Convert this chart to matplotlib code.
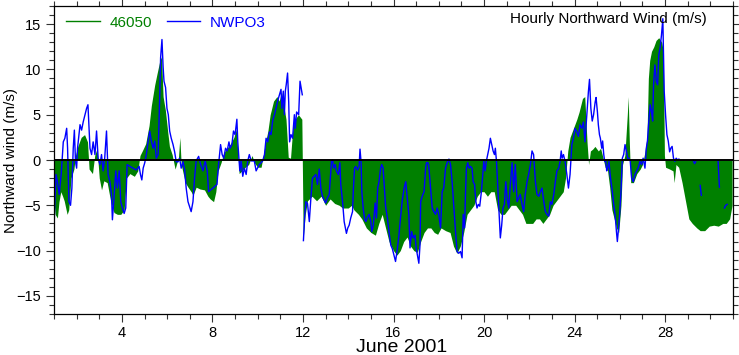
""" Hourly northward wind, buoy 46050 vs NWPO3, June 2001 """

import numpy as np
import matplotlib
matplotlib.use("Agg")
import matplotlib.pyplot as plt
from matplotlib.ticker import MultipleLocator, FixedLocator

plt.rcParams['font.family'] = ['Liberation Sans', 'DejaVu Sans']

# 46050 buoy (filled), day of June vs m/s
g_day = [1.00, 1.05, 1.15, 1.22, 1.30, 1.38, 1.45, 1.58, 1.65, 1.75, 1.88, 1.95,
         2.05, 2.20, 2.35, 2.48, 2.55, 2.70, 2.80, 2.90, 3.00, 3.10, 3.20, 3.35,
         3.50, 3.65, 3.80, 3.95, 4.10, 4.20, 4.35, 4.55, 4.70, 4.80, 4.90, 5.05,
         5.20, 5.30, 5.45, 5.55, 5.68, 5.75, 5.82, 5.92, 6.02, 6.10, 6.22, 6.35,
         6.50, 6.56, 6.62, 6.80, 6.92, 7.06, 7.14, 7.28, 7.45, 7.65, 7.80, 7.90,
         8.05, 8.15, 8.25, 8.38, 8.50, 8.65, 8.80, 8.95, 9.05, 9.12, 9.18, 9.30,
         9.45, 9.60, 9.75, 9.85, 10.00, 10.15, 10.25, 10.35, 10.45, 10.55, 10.70,
         10.85, 10.95, 11.05, 11.15, 11.25, 11.35, 11.45, 11.55, 11.65, 11.80,
         11.95, 11.98, 12.01, 12.10, 12.20, 12.40, 12.60, 12.80, 13.00, 13.20,
         13.40, 13.60, 13.75, 14.00, 14.15, 14.25, 14.45, 14.60, 14.80, 15.00,
         15.20, 15.35, 15.50, 15.65, 15.80, 16.00, 16.15, 16.30, 16.45, 16.60,
         16.75, 16.90, 17.05, 17.20, 17.35, 17.50, 17.65, 17.80, 17.95, 18.10,
         18.30, 18.50, 18.65, 18.80, 18.95, 19.10, 19.25, 19.40, 19.55, 19.70,
         19.85, 20.00, 20.15, 20.30, 20.45, 20.60, 20.75, 20.90, 21.05, 21.20,
         21.40, 21.55, 21.70, 21.85, 22.00, 22.15, 22.30, 22.45, 22.60, 22.75,
         22.90, 23.05, 23.20, 23.35, 23.50, 23.60, 23.70, 23.80, 23.95, 24.10,
         24.20, 24.35, 24.45, 24.55, 24.62, 24.70, 24.80, 24.90, 25.05, 25.15,
         25.25, 25.35, 25.45, 25.55, 25.65, 25.75, 25.85, 25.95, 26.05, 26.12,
         26.22, 26.33, 26.37, 26.42, 26.48, 26.60, 26.75, 26.90, 27.00, 27.10,
         27.20, 27.26, 27.32, 27.40, 27.50, 27.60, 27.72, 27.85, 27.92, 27.97,
         28.02, 28.20, 28.35, 28.40, 28.48, 28.60, 28.75, 28.90, 29.05, 29.20,
         29.40, 29.55, 29.75, 29.95, 30.15, 30.35, 30.55, 30.70, 30.85, 30.96]
g_val = [-4.5, -6.0, -6.4, -4.6, -3.5, -4.0, -4.5, -6.0, -5.5, -2.0, -1.0, 0.5,
         1.5, 2.5, 2.8, 2.0, -1.0, -1.5, 0.5, 1.3, -2.0, -3.3, -2.3, -2.5,
         -4.5, -5.8, -6.0, -6.0, -5.5, -2.0, -1.5, -1.8, -1.2, 0.5, 1.0, 1.8,
         3.8, 6.0, 8.3, 9.5, 11.0, 11.4, 7.0, 5.5, 3.2, 1.5, 0.6, -1.0,
         0.3, 2.5, -0.5, -2.5, -3.0, -3.5, -3.9, -3.0, -3.2, -3.3, -4.0, -4.3,
         -4.6, -3.5, -1.2, -0.3, 0.8, 1.3, 1.8, 2.5, 3.4, 1.0, -1.5, -1.2,
         -0.8, -0.5, 0.5, -0.3, -0.8, -0.8, 0.5, 2.0, 3.2, 5.0, 6.5,
         7.0, 6.5, 7.5, 6.0, 4.5, 0.3, 0.2, 3.5, 4.5, 5.0,
         4.5, -2.0, -8.7, -6.0, -4.5, -4.0, -4.5, -4.0, -5.0, -4.3,
         -4.8, -5.0, -5.3, -5.3, -5.0, -5.5, -6.0, -6.5, -7.5, -8.0,
         -8.3, -7.0, -6.0, -7.5, -9.0, -10.0, -10.5, -10.0, -9.0, -8.5,
         -9.5, -10.0, -10.2, -9.0, -8.0, -7.5, -7.5, -8.0, -8.2, -7.5,
         -7.8, -8.0, -9.5, -10.3, -9.5, -8.0, -6.0, -5.5, -5.0, -4.0,
         -3.5, -3.5, -4.0, -3.5, -3.5, -5.5, -6.0, -6.0, -5.5, -5.0,
         -5.0, -5.5, -6.0, -7.0, -7.0, -7.0, -6.5, -6.5, -7.0, -6.5,
         -6.0, -5.0, -4.5, -4.0, -3.5, -2.0, 1.0, 2.5, 3.5, 4.5,
         5.3, 6.8, 7.0, 2.0, -0.5, 1.0, 1.2, 1.5, 1.0, 1.3,
         0.3, -0.8, -1.0, -3.0, -5.5, -6.5, -7.5, -8.0, -5.0, -0.5,
         0.5, 5.0, 7.0, 2.0, -2.5, -2.5, -1.5, -1.0, -0.5, 0.8,
         2.5, 9.0, 11.0, 12.0, 12.5, 13.2, 13.5, 13.0, 12.0, 0.5,
         -0.8, -1.0, -1.2, -2.5, -0.5, -0.8, -2.5, -4.5, -6.5, -7.0,
         -7.5, -7.8, -7.8, -7.3, -7.2, -7.3, -7.0, -7.0, -6.5, -5.0]

# NWPO3 station (line), nan = missing
b_day = [1.00, 1.04, 1.09, 1.15, 1.23, 1.32, 1.41, 1.48, 1.56, 1.60, 1.66, 1.73,
         1.79, 1.85, 1.90, 1.95, 2.00, 2.04, 2.15, 2.22, 2.29, 2.37, 2.44, 2.50,
         2.54, 2.59, 2.66, 2.73, 2.81, 2.88, 2.95, 3.03, 3.10, 3.17, 3.24, 3.32,
         3.39, 3.47, 3.54, 3.58, 3.64, 3.73, 3.80, 3.88, 3.95, 4.02, 4.10, 4.17,
         4.23, 4.35, 4.49, 4.64, 4.76, 4.82, 4.88, 4.94, 5.01, 5.08, 5.16, 5.23,
         5.30, 5.38, 5.45, 5.52, 5.60, 5.67, 5.71, 5.77, 5.82, 5.86, 5.93, 5.99,
         6.05, 6.11, 6.18, 6.26, 6.33, 6.40, 6.48, 6.55, 6.62, 6.70, 6.77, 6.84,
         6.92, 7.06, 7.14, 7.21, 7.28, 7.39, 7.48, 7.58, 7.68, 7.77, 7.83, 8.02,
         8.20, 8.27, 8.36, 8.43, 8.50, 8.58, 8.65, 8.73, 8.78, 8.86, 8.93, 9.00,
         9.08, 9.12, 9.17, 9.21, 9.27, 9.34, 9.41, 9.49, 9.56, 9.63, 9.71, 9.85,
         9.93, 10.07, 10.22, 10.30, 10.37, 10.44, 10.52, 10.59, 10.66, 10.74,
         10.81, 10.88, 10.96, 11.03, 11.07, 11.13, 11.18, 11.22, 11.26, 11.32,
         11.37, 11.41, 11.47, 11.54, 11.62, 11.66, 11.72, 11.81, 11.87, 11.91,
         11.97, 11.99, 12.02, 12.08, 12.13, 12.20, 12.28, 12.35, 12.42, 12.57,
         12.64, 12.72, 12.79, 12.86, 13.00, 13.08, 13.16, 13.20, 13.26, 13.31,
         13.35, 13.42, 13.48, 13.56, 13.63, 13.67, 13.75, 13.82, 13.86, 13.92,
         13.98, 14.04, 14.11, 14.19, 14.23, 14.28, 14.33, 14.41, 14.48, 14.52,
         14.57, 14.60, 14.66, 14.73, 14.78, 14.85, 14.92, 15.00, 15.04, 15.11,
         15.19, 15.25, 15.30, 15.36, 15.43, 15.48, 15.54, 15.60, 15.65, 15.73,
         15.80, 15.88, 15.95, 16.02, 16.09, 16.17, 16.24, 16.32, 16.39, 16.47,
         16.54, 16.61, 16.68, 16.73, 16.80, 16.87, 16.95, 17.00, 17.08, 17.12,
         17.17, 17.20, 17.27, 17.35, 17.42, 17.46, 17.52, 17.56, 17.64, 17.71,
         17.78, 17.86, 17.93, 18.00, 18.08, 18.15, 18.22, 18.30, 18.37, 18.45,
         18.52, 18.59, 18.67, 18.74, 18.81, 18.88, 18.96, 19.03, 19.08, 19.14,
         19.18, 19.22, 19.28, 19.34, 19.40, 19.47, 19.52, 19.58, 19.64, 19.69,
         19.75, 19.81, 19.87, 19.92, 19.99, 20.05, 20.10, 20.16, 20.22, 20.28,
         20.34, 20.40, 20.46, 20.50, 20.55, 20.61, 20.67, 20.72, 20.78, 20.84,
         20.90, 20.96, 21.02, 21.09, 21.17, 21.24, 21.31, 21.38, 21.46, 21.53,
         21.60, 21.68, 21.75, 21.82, 21.90, 21.97, 22.05, 22.12, 22.19, 22.27,
         22.34, 22.42, 22.49, 22.56, 22.64, 22.71, 22.78, 22.86, 22.93, 23.00,
         23.08, 23.15, 23.22, 23.30, 23.36, 23.41, 23.45, 23.51, 23.58, 23.66,
         23.73, 23.80, 23.88, 23.95, 24.02, 24.10, 24.17, 24.24, 24.32, 24.39,
         24.46, 24.54, 24.61, 24.66, 24.72, 24.78, 24.84, 24.91, 24.95, 25.01,
         25.05, 25.10, 25.14, 25.20, 25.24, 25.29, 25.33, 25.38, 25.42, 25.46,
         25.52, 25.57, 25.61, 25.67, 25.73, 25.79, 25.85, 25.89, 25.93, 25.99,
         26.05, 26.11, 26.17, 26.23, 26.29, 26.35, 26.40, 26.46, 26.52, 26.59,
         26.67, 26.74, 26.81, 26.89, 26.96, 27.03, 27.11, 27.17, 27.22, 27.28,
         27.34, 27.40, 27.45, 27.49, 27.55, 27.61, 27.67, 27.72, 27.78, 27.84,
         27.90, 27.96, 28.02, 28.08, 28.14, 28.20, 28.25, 28.31, 28.37, 28.43,
         28.49, 28.55, 28.61, 28.70, 29.24, 29.30, 29.35, 29.45, 29.55, 29.60,
         29.80, 30.34, 30.40, 30.50, 30.62, 30.68, 30.74]
nan = np.nan
b_val = [-7.5, -4.6, -1.6, -2.4, -3.8, -1.5, 2.0, 2.4, 3.5, 1.3, -4.6, -5.0,
         -3.1, 1.3, 3.3, -0.2, -0.9, 1.3, 3.9, 3.3, 4.2, 5.0, 5.7, 6.1,
         3.9, 1.3, 0.6, 2.0, 0.6, 3.2, 0.2, -0.5, 0.6, -1.2, 0.2, 3.2,
         -1.6, -2.4, -3.8, -6.6, -4.6, -1.2, -3.1, -1.2, -4.6, -5.3, -5.9, -5.3,
         -0.5, -0.7, -0.9, -1.1, -0.7, -1.6, -2.2, -0.9, -0.3, 0.6, 2.1, 3.2,
         2.1, 1.3, 2.1, 0.2, 0.6, 6.9, 11.3, 13.3, 10.3, 8.7, 8.0, 5.7,
         5.0, 3.2, 2.4, 1.7, 0.9, -0.2, -0.2, 0.2, -0.9, -0.2, -1.0, -3.1,
         -4.6, -5.7, -4.6, -2.0, -0.1, 0.4, -0.5, -1.2, -0.1, -1.2, -3.5, -3.1,
         -2.7, -0.5, 1.7, 0.6, 0.2, 1.3, 1.0, 2.0, 1.3, 1.7, 3.2, 2.8,
         4.5, 2.0, 0.2, -1.2, -0.1, -1.8, -0.9, -1.6, -0.1, 0.6, -0.1, -0.1,
         -1.2, -0.5, -0.1, 0.6, 2.4, 2.0, 3.1, 2.8, 4.3, 5.0,
         5.7, 6.5, 7.2, 7.8, 5.7, 7.6, 5.0, 7.6, 8.3, 9.6,
         6.4, 2.0, 2.8, 2.4, 5.0, 3.5, 5.3, 5.0, 8.7, 8.1,
         7.2, nan, -8.9, -6.0, -4.6, -4.8, -6.8, -4.2, -2.0, -1.6,
         -2.7, -1.0, -3.1, -4.0, -4.75, -4.2, -3.8, -2.3, -0.15, 0.0,
         -0.9, -0.5, -1.2, -1.6, -0.3, -2.7, -4.6, -6.8, -7.3, -8.1,
         -7.5, -7.2, -6.4, -5.7, -3.1, -0.9, -0.7, -1.1, -0.7, 1.2,
         -0.3, -3.5, -5.3, -6.6, -6.8, -6.3, -6.0, -6.8, -7.9, -7.2,
         -4.75, -6.4, -3.1, -2.4, -0.9, -0.5, -0.9, -3.1, -5.1, -6.4,
         -7.9, -9.4, -9.8, -10.5, -11.2, -9.8, -8.3, -6.1, -4.4, -3.1,
         -2.4, -4.2, -6.1, -9.7, -7.9, -8.6, -8.3, -9.7, -10.8, -11.4,
         -9.4, -4.6, -4.0, -3.5, -0.9, -0.3, -0.3, -0.7, -3.1, -5.3,
         -5.7, -6.0, -5.3, -6.0, -7.5, -3.5, -3.1, -0.9, -0.3, 0.1,
         -0.5, -2.4, -5.3, -7.9, -10.1, -10.3, -10.1, -10.8, -6.0, -7.5,
         -3.8, -0.9, -0.3, -0.9, -0.7, -0.9, -2.4, -2.7, -4.6, -5.3,
         -4.9, -5.1, -3.8, -2.4, -0.15, -1.2, -0.15, 0.6, 1.3, 2.4,
         1.7, 1.0, 0.6, 1.3, -0.15, -3.1, -6.0, -8.6, -7.2, -5.3,
         -4.9, -2.4, -4.2, -5.3, -2.4, -0.3, -3.5, -0.5, -4.6, -4.2,
         -3.8, -4.9, -5.7, -3.8, -2.4, -1.6, -0.5, 1.0, 0.6, -2.4,
         -3.8, -4.0, -3.5, -3.1, -4.6, -5.7, -6.0, -6.2, -4.6, -4.9,
         -3.8, -2.4, -1.2, -0.9, -0.15, 1.0, 0.2, 0.6, -0.15, -1.6,
         -3.1, -1.6, 1.7, 2.4, 3.5, 3.1, 2.6, 3.9, 3.5, 4.2,
         2.0, 5.0, 7.5, 8.9, 5.7, 4.3, 5.0, 6.4, 6.9, 5.3,
         3.9, 2.8, 2.4, 1.3, 2.1, 0.6, -0.15, -0.15, -1.2, -0.9,
         -0.15, -1.6, -2.4, -3.5, -4.9, -6.0, -7.9, -9.0, -7.9, -6.0,
         -3.5, 0.2, 0.6, 1.7, 1.0, 0.2, 0.2, -0.15, -2.0, -2.4,
         -1.6, -1.2, -0.9, -0.15, -0.5, 0.2, -0.9, 1.3, 2.1, 4.3,
         6.1, 5.3, 4.3, 8.3, 10.5, 8.7, 8.3, 11.6, 12.4, 13.8,
         15.6, 7.6, 5.0, 2.8, 2.1, 0.9, 1.3, 1.5, 0.2, -0.15,
         0.2, 0.0, 0.1, nan, 0.0, -0.4, -0.2, nan, -2.8, -3.9,
         nan, -0.1, -3.0, nan, -5.3, -5.0, -4.9]

fig = plt.figure(figsize=(7.39, 3.55), dpi=100)
ax = fig.add_axes([54 / 739, 1 - 314 / 355, 679 / 739, 308 / 355])

ax.fill_between(g_day, g_val, 0, color='#008000', lw=0)
ax.plot([], [], color='#008000', lw=1, label='46050')
ax.plot(b_day, b_val, color='#0000ff', lw=1, label='NWPO3')
ax.axhline(0, color='black', lw=1.4)

ax.set_xlim(1, 31)
ax.set_ylim(-17, 17)
ax.xaxis.set_major_locator(FixedLocator([4, 8, 12, 16, 20, 24, 28]))
ax.xaxis.set_minor_locator(MultipleLocator(1))
ax.yaxis.set_major_locator(MultipleLocator(5))
ax.yaxis.set_minor_locator(MultipleLocator(1))
ax.tick_params(which='both', direction='out', top=True, right=True,
               labelsize=10.5, width=0.8, color='#333333')
ax.tick_params(which='major', length=6)
ax.tick_params(axis='x', which='major', pad=2.5)
ax.tick_params(which='minor', length=3.5)
for s in ax.spines.values():
    s.set_linewidth(0.9)

ax.set_ylabel('Northward wind (m/s)', fontsize=11)
ax.yaxis.set_label_coords(-0.053, 0.5)
ax.set_xlabel('June 2001', fontsize=14)
ax.xaxis.set_label_coords(0.512, -0.081)

ax.text(0.962, 0.958, 'Hourly Northward Wind (m/s)', transform=ax.transAxes,
        ha='right', va='center', fontsize=11)
ax.legend(loc='upper left', bbox_to_anchor=(0.0177, 0.969), ncol=2,
          frameon=False, fontsize=11, handlelength=2.2, handletextpad=0.65,
          columnspacing=0.95, borderpad=0, borderaxespad=0,
          labelcolor='linecolor')

plt.savefig('out.png', dpi=100)
